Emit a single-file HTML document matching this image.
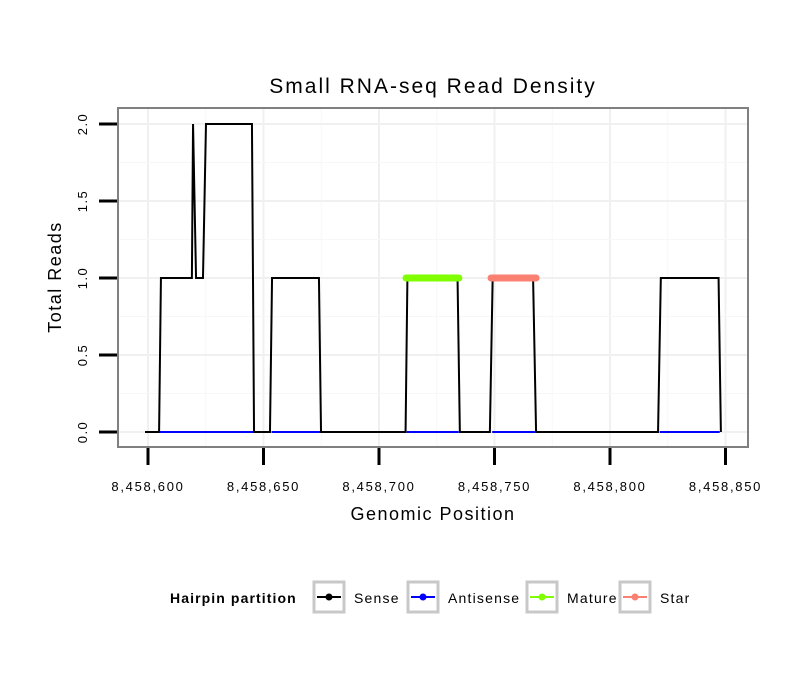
<!DOCTYPE html>
<html><head><meta charset="utf-8"><style>
body{margin:0;background:#fff;font-family:"Liberation Sans",sans-serif}
</style></head><body>
<svg id="c" width="810" height="690" xmlns="http://www.w3.org/2000/svg" font-family="Liberation Sans, sans-serif">
<rect width="810" height="690" fill="#fff"/>
<text x="433" y="93" text-anchor="middle" font-size="21" letter-spacing="2">Small RNA-seq Read Density</text>
<g id="grid"></g>
<g id="series"></g>
<rect x="118" y="108" width="630" height="339" fill="none" stroke="#808080" stroke-width="2"/>
<g id="axes"></g>
<text x="433" y="520" text-anchor="middle" font-size="18" letter-spacing="1.5">Genomic Position</text>
<text transform="translate(61,277) rotate(-90)" text-anchor="middle" font-size="18" letter-spacing="1.5">Total Reads</text>
<g id="legend">
<text x="170" y="603" font-size="14" font-weight="bold" letter-spacing="1.1">Hairpin partition</text>
</g>
</svg>
<script>
const xTicks=[8458600,8458650,8458700,8458750,8458800,8458850];
const yTicks=[0,0.5,1,1.5,2];
const yTickLabels=["0.0","0.5","1.0","1.5","2.0"];
const senseX=[8458598.7,8458604.8,8458605.6,8458619,8458619.5,8458620.8,8458623.8,8458625.1,8458645,8458645.9,8458652.8,8458653.7,8458674,8458674.9,8458711.5,8458712.3,8458734,8458735,8458748,8458749.2,8458766.7,8458768,8458820.8,8458822,8458847,8458848];
const senseY=[0,0,1,1,2,1,1,2,2,0,0,1,1,0,0,1,1,0,0,1,1,0,0,1,1,0];
const antisenseX=[8458605,8458645.5,8458653.5,8458674.5,8458712,8458734.5,8458749,8458767.5,8458821.5,8458847.5];
const antisenseY=[0,0,0,0,0,0,0,0,0,0];
const matureX=[8458711.7,8458734.6];const matureY=[1,1];
const starX=[8458748.5,8458768];const starY=[1,1];
const X=v=>148+(v-8458600)*2.31;
const Y=v=>432-v*154;
const NS="http://www.w3.org/2000/svg";
function el(t,a,p){const e=document.createElementNS(NS,t);for(const k in a)e.setAttribute(k,a[k]);p.appendChild(e);return e;}
const grid=document.getElementById('grid'),axes=document.getElementById('axes'),ser=document.getElementById('series');
for(let i=0;i<xTicks.length;i++){
 const x=X(xTicks[i]);
 if(x>118&&x<748){const g=el('line',{x1:x,x2:x,y1:109,y2:446,stroke:'#f0f0f0','stroke-width':2},grid);
 
 }
 const m=X(xTicks[i]+25);
 if(m>118&&m<748){const g2=el('line',{x1:m,x2:m,y1:109,y2:446,stroke:'#f7f7f7','stroke-width':1},grid);
 
 }
 const t=el('line',{x1:x,x2:x,y1:448,y2:465,stroke:'#000','stroke-width':3},axes);
 
 
 const l=el('text',{x:x,y:491,'text-anchor':'middle','font-size':13,'letter-spacing':1.7},axes);
 l.textContent=xTicks[i].toLocaleString('en-US');
 
 
}
for(let i=0;i<yTicks.length;i++){
 const y=Y(yTicks[i]);
 const g=el('line',{x1:119,x2:747,y1:y,y2:y,stroke:'#f0f0f0','stroke-width':2},grid);
 
 
 if(i<yTicks.length-1){const m=Y(yTicks[i]+0.25);const g2=el('line',{x1:119,x2:747,y1:m,y2:m,stroke:'#f7f7f7','stroke-width':1},grid);
 
 }
 const t=el('line',{x1:99,x2:117,y1:y,y2:y,stroke:'#000','stroke-width':3},axes);
 
 
 const l=el('text',{transform:`translate(87,${y}) rotate(-90)`,'text-anchor':'middle','font-size':13,'letter-spacing':1.5},axes);
 l.textContent=yTickLabels[i];
 
 
}
const s=el('polyline',{points:senseX.map((v,i)=>X(v)+','+Y(senseY[i])).join(' '),fill:'none',stroke:'#000','stroke-width':2},ser);


for(let i=0;i<antisenseX.length;i+=2){
 const a=el('line',{x1:X(antisenseX[i]),x2:X(antisenseX[i+1]),y1:Y(antisenseY[i]),y2:Y(antisenseY[i+1]),stroke:'#0000ff','stroke-width':2},ser);
 
 
}
const mt=el('line',{x1:X(matureX[0]),x2:X(matureX[1]),y1:Y(matureY[0]),y2:Y(matureY[1]),stroke:'#7fff00','stroke-width':7,'stroke-linecap':'round'},ser);


const st=el('line',{x1:X(starX[0]),x2:X(starX[1]),y1:Y(starY[0]),y2:Y(starY[1]),stroke:'#fa8072','stroke-width':7,'stroke-linecap':'round'},ser);


const leg=document.getElementById('legend');
const items=[["Sense","#000",314],["Antisense","#0000ff",408],["Mature","#7fff00",527],["Star","#fa8072",620]];
for(const [n,c,x] of items){
 const g=el('g',{},leg);
 
 
 el('rect',{x:x,y:582,width:30,height:30,fill:'#fff',stroke:'#c8c8c8','stroke-width':3},g);
 el('line',{x1:x+3,x2:x+27,y1:597,y2:597,stroke:c,'stroke-width':2},g);
 el('circle',{cx:x+15,cy:597,r:3.5,fill:c},g);
 const t=el('text',{x:x+40,y:603,'font-size':14,'letter-spacing':1.2},g);t.textContent=n;
}
</script>
</body></html>
